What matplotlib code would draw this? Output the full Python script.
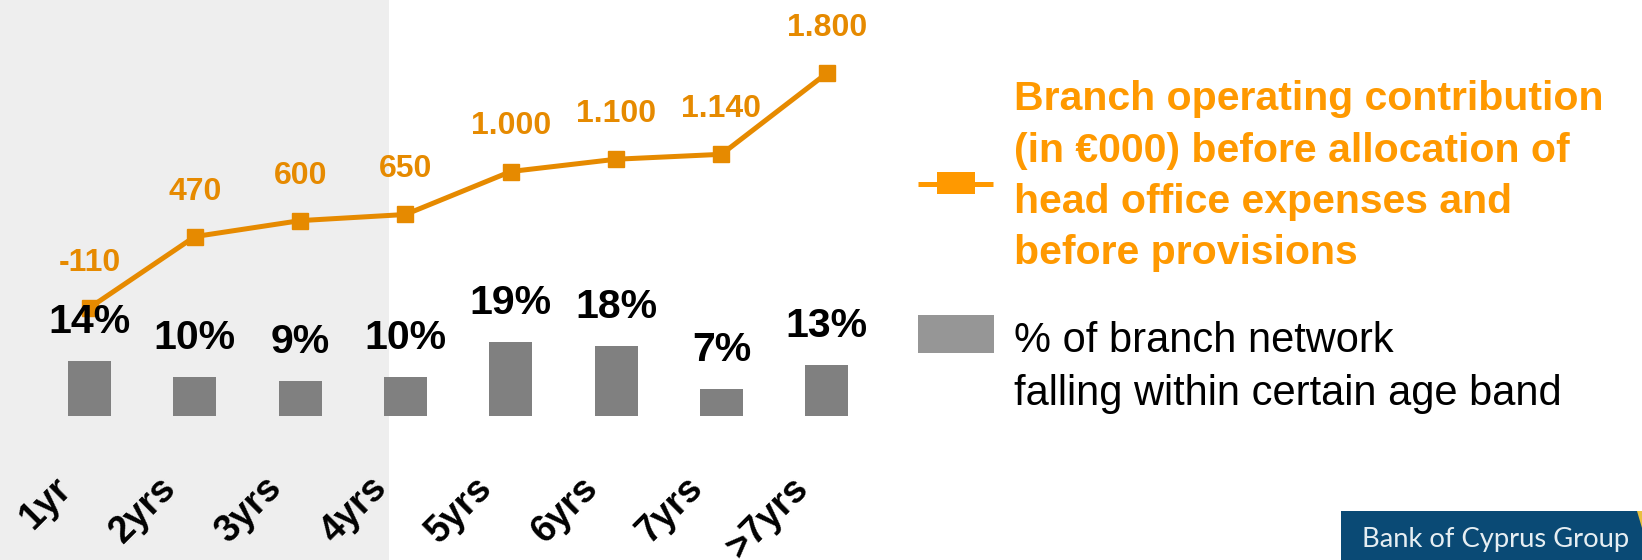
import matplotlib
matplotlib.use("Agg")
import matplotlib.pyplot as plt
from matplotlib.patches import Rectangle, Polygon
from matplotlib.lines import Line2D

# Age bands of the branch network
age_bands = ["1yr", "2yrs", "3yrs", "4yrs", "5yrs", "6yrs", "7yrs", ">7yrs"]
# Share of branches in each age band (%)
branch_share = [14, 10, 9, 10, 19, 18, 7, 13]
# Branch operating contribution (EUR 000)
contribution = [-110, 470, 600, 650, 1000, 1100, 1140, 1800]

legend_line_text = ["Branch operating contribution",
                    "(in \u20ac000) before allocation of",
                    "head office expenses and",
                    "before provisions"]
legend_bar_text = ["% of branch network",
                   "falling within certain age band"]
logo_text = "Bank of Cyprus Group"

W, H = 1642, 560
DPI = 100
ORANGE_LINE = "#E68A00"
ORANGE_TEXT = "#FF9900"
BAR_GREY = "#808080"
LEG_GREY = "#969696"
PANEL_GREY = "#EEEEEE"
NAVY = "#0A4A75"

plt.rcParams["font.family"] = ["Liberation Sans", "DejaVu Sans"]

fig = plt.figure(figsize=(W / DPI, H / DPI), dpi=DPI)
fig.patch.set_facecolor("white")


def fx(px):
    return px / W


def fy(py_top):
    return 1 - py_top / H


ax = fig.add_axes([0, 0, 1, 1])
ax2 = ax.twinx()
for a in (ax, ax2):
    a.set_axis_off()
ax.set_facecolor("none")

# category spacing: first band at 89.5 px, 105.33 px apart
x0_px, step_px = 89.5, 105.33
ax.set_xlim(-x0_px / step_px, (W - x0_px) / step_px)
ax2.set_xlim(ax.get_xlim())

# bar scale: baseline 144.3 px above the bottom, 3.88 px per percent
ax.set_ylim(-144.3 / 3.88, (H - 144.3) / 3.88)
# line scale: zero 265.7 px above the bottom, 0.1228 px per EUR 000
ax2.set_ylim(-265.7 / 0.1228, (H - 265.7) / 0.1228)

xs = list(range(len(age_bands)))

# shaded panel behind the first age bands
ax.axvspan(ax.get_xlim()[0], (389 - x0_px) / step_px, color=PANEL_GREY,
           zorder=0, lw=0)

ax.bar(xs, branch_share, width=0.41, color=BAR_GREY, zorder=2)

ax2.plot(xs, contribution, color=ORANGE_LINE, lw=3.6, marker="s",
         markersize=11.5, markerfacecolor=ORANGE_LINE,
         markeredgecolor=ORANGE_LINE, zorder=3)

for x, v in zip(xs, contribution):
    ax2.annotate(f"{v:,}".replace(",", "."), xy=(x, v),
                 xytext=(0, 37), textcoords="offset pixels",
                 ha="center", va="baseline", fontsize=23,
                 fontweight="bold", color=ORANGE_LINE, zorder=4)

for x, p in zip(xs, branch_share):
    ax2.annotate(f"{p}%", xy=(x, p), xycoords=ax.transData,
                 xytext=(0, 28), textcoords="offset pixels",
                 ha="center", va="baseline", fontsize=29.5,
                 fontweight="bold", color="black", zorder=5)

# rotated category labels below the bars
for x, lab in zip(xs, age_bands):
    ax2.annotate(lab, xy=(x, 0), xycoords=ax.get_xaxis_transform(),
                 xytext=(-24, 77), textcoords="offset pixels",
                 ha="right", va="center", rotation=45,
                 rotation_mode="anchor", fontsize=27, fontweight="bold",
                 color="black")

# legend: line with square marker
fig.add_artist(Line2D([fx(918), fx(993)], [fy(183.5), fy(183.5)],
                      color=ORANGE_TEXT, lw=3.6, solid_capstyle="butt"))
fig.add_artist(Rectangle((fx(937), fy(194)), fx(38), 22 / H,
                         facecolor=ORANGE_TEXT, edgecolor="none"))
for i, line in enumerate(legend_line_text):
    fig.text(fx(1014), fy(110.5 + 51.3 * i), line, ha="left",
             va="baseline", fontsize=29.5, fontweight="bold",
             color=ORANGE_TEXT)

# legend: grey box
fig.add_artist(Rectangle((fx(918), fy(353)), fx(76), 38 / H,
                         facecolor=LEG_GREY, edgecolor="none"))
for i, line in enumerate(legend_bar_text):
    fig.text(fx(1014), fy(352 + 53.5 * i), line, ha="left",
             va="baseline", fontsize=30, color="black")

# corporate logo strip
fig.add_artist(Rectangle((fx(1341), 0), fx(W - 1341), 49 / H,
                         facecolor=NAVY, edgecolor="none"))
fig.add_artist(Polygon([(fx(1637), fy(511)), (fx(1642), fy(511)),
                        (fx(1642), fy(528))], closed=True,
                       facecolor="#E8C040", edgecolor="none"))
fig.text(fx(1496), fy(546.5), logo_text, ha="center", va="baseline",
         fontsize=19.7, color="#E6EEF2", family=["Lato", "DejaVu Sans"])

fig.savefig("out.png", dpi=DPI)
